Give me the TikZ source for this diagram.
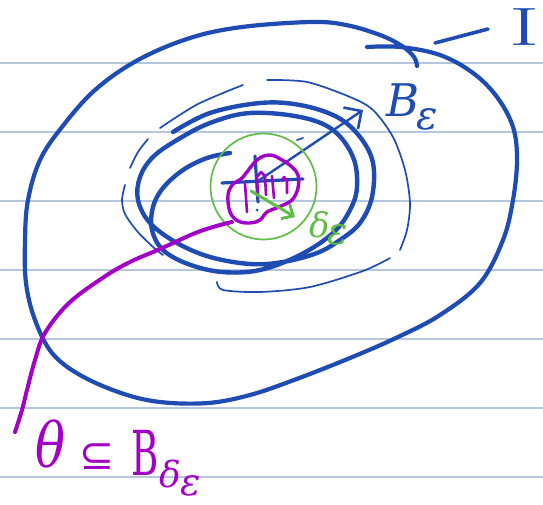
\documentclass[tikz,border=0pt]{standalone}
\usepackage{fontspec}
\newfontfamily\grfont{DejaVu Serif}
\newfontfamily\symfont{DejaVu Sans}
\usetikzlibrary{arrows.meta}
\definecolor{inkblue}{RGB}{30,76,178}
\definecolor{inkpurple}{RGB}{163,0,200}
\definecolor{inkgreen}{RGB}{98,188,72}
\definecolor{ruling}{RGB}{182,198,222}
\newcommand{\fs}[1]{\fontsize{#1}{#1}\selectfont}
\begin{document}
\begin{tikzpicture}[x=1pt,y=-1pt,line cap=round,line join=round,
  thickink/.style={draw=inkblue,line width=4.4pt},
  thinink/.style={draw=inkblue,line width=1.7pt},
  crossink/.style={draw=inkblue,line width=3.2pt},
  purpink/.style={draw=inkpurple,line width=3.4pt},
  lbl/.style={inner sep=0pt}]
\useasboundingbox[fill=white] (0,0) rectangle (543,505);
% ruled paper
\foreach \y in {63,132,201,270,339,408,477}
  \draw[ruling,line width=1.3pt] (0,\y) -- (543,\y);

% outer set I
\draw[thickink,line width=4.2pt] plot[smooth,tension=0.6] coordinates {
 (367,47) (400,47) (440,55) (473,73) (497,97) (513,127) (517,160) (513,200)
 (503,240) (480,283) (440,315) (398,337) (350,358) (294,380) (250,395)
 (208,403) (160,402) (121,393) (80,375) (52,353) (35,320) (26,283) (25,240)
 (28,200) (40,160) (62,127) (95,90) (138,60) (190,38) (242,27) (311,22)
 (346,25) (380,35) (402,46) (414,57) (417,66)};
\coordinate (dashA) at (435,43);
\coordinate (dashB) at (488,29);
\draw[thickink,line width=3.6pt] (dashA) -- (dashB);
\node[lbl,anchor=center,text=inkblue,xscale=1.7] (Ilabel) at (525,27) {\fs{54}I};

% thin irregular ring
\draw[thinink] plot[smooth] coordinates {(160,128) (198,104) (243,85)};
\draw[thinink] plot[smooth] coordinates {(148,139) (138,152) (130,168)};
\draw[thinink] plot[smooth] coordinates {(125,185) (122,200) (125,214) (137,231) (153,247) (163,255)};
\draw[thinink] plot[smooth] coordinates {(217,282) (223,290) (260,292) (310,287) (363,271) (390,258)};
\draw[thinink] plot[smooth] coordinates {(267,80) (307,82) (350,97) (373,110) (393,137) (405,170) (410,203) (407,230) (400,250)};
\draw[thinink] (297,140) -- (303,138);

% thick spiral B_eps
\draw[thickink] plot[smooth,tension=0.6] coordinates {
 (173,132) (210,113) (260,103) (300,105) (337,117) (360,137) (373,163)
 (372,197) (360,223) (340,240) (317,253) (283,262) (250,264) (210,257)
 (177,243) (150,223) (138,200) (140,177) (153,157) (177,140) (210,123)
 (250,113) (300,117) (333,130) (353,157) (357,187) (350,210) (333,233)
 (300,255) (260,270) (222,272) (188,264) (163,250) (152,230) (153,207)
 (163,188) (183,170) (207,158) (230,153)};

% label B_eps
\node[lbl,anchor=base west,text=inkblue] (Blbl) at (386,117)
  {\fs{45}\grfont\itshape B\kern-3pt\raisebox{-13pt}{\fs{40}ε}};

% centre cross
\coordinate (cxL) at (222,183);
\coordinate (cxR) at (303,179);
\coordinate (cyT) at (255,156);
\coordinate (cyB) at (258,202);
\draw[crossink] (cxL) -- (cxR);
\draw[crossink] (cyT) -- (cyB);
\fill[inkblue] (257,210) circle (1.5);

% radius arrow
\coordinate (ctr) at (258,181);
\coordinate (rtip) at (363,110);
\draw[inkblue,line width=2.4pt,-{Straight Barb[length=13pt,width=26pt,line width=2.6pt]}] (ctr) -- (rtip);

% green ball
\node[draw=inkgreen,line width=1.7pt,circle,minimum size=106pt,inner sep=0pt] (ball) at (263.5,186.5) {};

% purple set theta
\draw[purpink] plot[smooth cycle,tension=0.6] coordinates {
 (242,178) (257,160) (270,155) (282,160) (292,167) (298,175) (298,188)
 (292,200) (279,207) (267,212) (260,220) (250,223) (238,221) (230,212)
 (228,195) (233,184)};
\draw[purpink,line width=2.6pt] (245,184) -- (247,212);
\draw[purpink,line width=2.6pt] (258,197) -- (257,177) -- (261,172) -- (265,176) -- (266,195);
\draw[purpink,line width=2.6pt] (272,176) -- (274,198);
\draw[purpink,line width=2.6pt] (282,181) -- (284,177) -- (287,181) -- (287,193);
\coordinate (tailS) at (232,222);
\coordinate (tailE) at (15,432);
\draw[purpink,line width=4pt] plot[smooth,tension=0.6] coordinates {
 (tailS) (213,227) (193,234) (160,249) (130,262) (104,277) (69,303) (45,333)
 (35,360) (27,390) (22,410) (tailE)};

% delta arrow
\coordinate (dS) at (251,191);
\coordinate (dT) at (295,217);
\draw[inkgreen,line width=3pt,-{Straight Barb[length=9pt,width=17pt,line width=3pt]}] (dS) -- (dT);
\node[lbl,anchor=base west,text=inkgreen] (dlbl) at (309,237)
  {\grfont\itshape\fs{34}δ\kern-2pt\raisebox{-7pt}{\fs{38}ε}};

% purple statement
\node[lbl,anchor=center,text=inkpurple,xscale=0.8] (th) at (50,444) {\fs{62}\grfont\itshape θ};
\node[lbl,anchor=center,text=inkpurple] (sub) at (97,457) {\fs{42}\symfont ⊆};
\node[lbl,anchor=base west,text=inkpurple] (BB) at (131,475)
  {\grfont\scalebox{0.6}[1]{\fs{62}B}\kern1pt\raisebox{-12pt}{\fs{36}\itshape δ}\kern-1pt\raisebox{-20pt}{\fs{38}\itshape ε}};
\end{tikzpicture}
\end{document}
